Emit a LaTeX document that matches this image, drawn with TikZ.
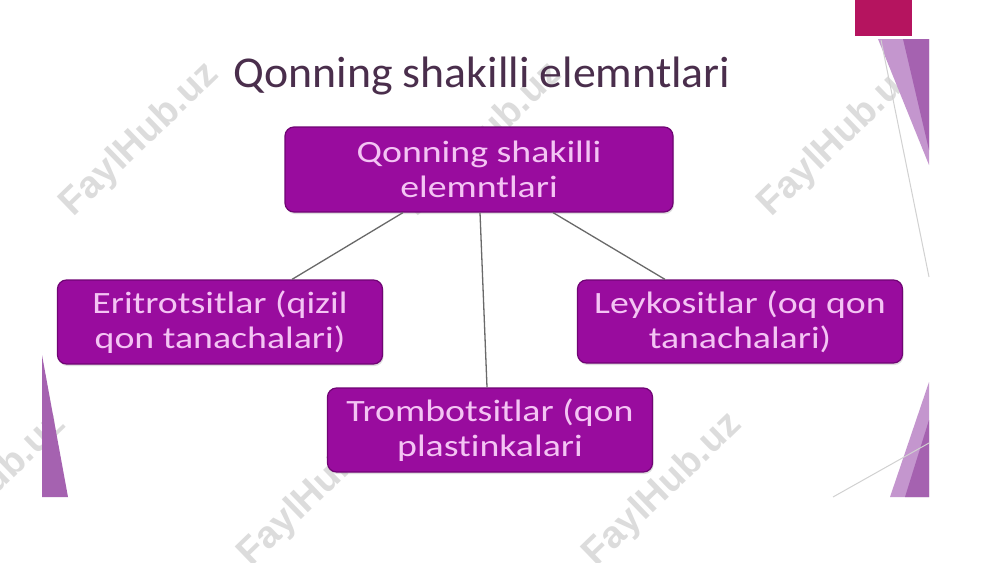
\documentclass[tikz,border=0pt]{standalone}
\usepackage{fontspec}
\setmainfont{Carlito}
\newfontfamily\boxfont{Carlito}[FakeStretch=1.22, Ligatures=NoCommon]
\newfontfamily\titlefont{Carlito}[FakeStretch=1.04, Ligatures=NoCommon]
\newfontfamily\wmfont{Liberation Sans}
\usetikzlibrary{shadows}

\definecolor{boxfill}{RGB}{153,12,158}
\definecolor{boxedge}{RGB}{112,4,116}
\definecolor{boxtext}{RGB}{244,196,244}
\definecolor{titlecol}{RGB}{74,46,76}
\definecolor{linkgray}{RGB}{105,105,105}
\definecolor{accent}{RGB}{181,20,95}
\definecolor{trilight}{RGB}{196,150,206}
\definecolor{tridark}{RGB}{165,98,176}
\definecolor{wmgray}{RGB}{220,220,220}

\begin{document}
\begin{tikzpicture}[x=1pt,y=-1pt,
    box/.style={draw=boxedge, line width=1.2pt, fill=boxfill, rounded corners=9pt,
      text=boxtext, align=center, font=\boxfont\fontsize{31}{35}\selectfont,
      minimum width=325pt, minimum height=84pt,
      drop shadow={opacity=0.25, shadow xshift=1pt, shadow yshift=-2pt}},
    link/.style={draw=linkgray, line width=1.3pt},
    wmark/.style={text=wmgray, rotate=44,
      font=\wmfont\bfseries\fontsize{38}{40}\selectfont}]
  \useasboundingbox (0,0) rectangle (1000,562);
  \clip (0,0) rectangle (1000,562);
  \fill[white] (0,0) rectangle (1000,562);

  % watermarks
  \foreach \wx/\wy/\wn in {140/140/a, 483/140/b, 838/140/c, -13/490/d, 318/490/e, 663/490/f}
    \node[wmark] (wm\wn) at (\wx,\wy) {FaylHub.uz};

  % slide decorations
  \fill[accent] (855,0) rectangle (912,36);
  \fill[trilight] (878,39) -- (929,39) -- (929,165) -- cycle;
  \fill[tridark] (903,39) -- (929,39) -- (929,150) -- cycle;
  \draw[black!18, line width=1pt] (881,40) -- (929,277);
  \fill[trilight] (929,382) -- (929,497) -- (890,497) -- cycle;
  \fill[tridark] (929,420) -- (929,497) -- (905,497) -- cycle;
  \draw[black!18, line width=1pt] (833,497) -- (929,443);
  \fill[tridark] (42,355) -- (68,497) -- (42,497) -- cycle;

  % title
  \node[text=titlecol, font=\titlefont\fontsize{44}{48}\selectfont] (title) at (482,76)
    {Qonning shakilli elemntlari};

  % boxes
  \node[box, minimum width=388pt, minimum height=85pt] (root) at (479,169.5)
    {Qonning shakilli\\elemntlari};
  \node[box] (eri) at (220,322) {Eritrotsitlar (qizil\\qon tanachalari)};
  \node[box] (trom) at (490,430) {Trombotsitlar (qon\\plastinkalari};
  \node[box, minimum height=83pt] (ley) at (740,321.5) {Leykositlar (oq qon\\tanachalari)};

  % links
  \draw[link] ([xshift=-76pt]root.south) -- ([xshift=72pt]eri.north);
  \draw[link] ([xshift=1pt]root.south) -- ([xshift=-3pt]trom.north);
  \draw[link] ([xshift=74pt]root.south) -- ([xshift=-75pt]ley.north);
\end{tikzpicture}
\end{document}
